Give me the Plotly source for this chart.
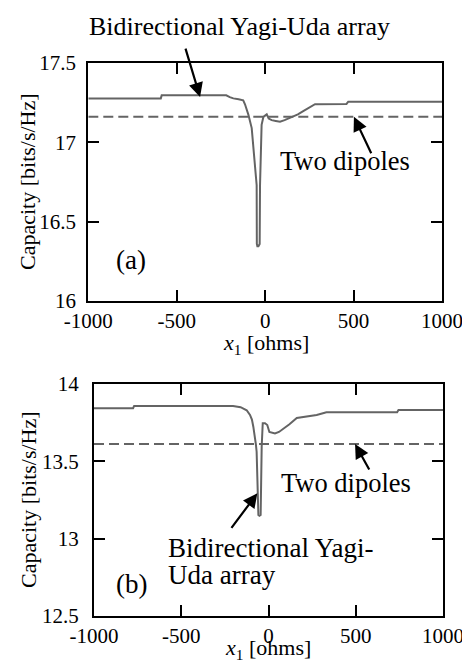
import plotly.graph_objects as go

# ---------------- data ----------------
# (a) Bidirectional Yagi-Uda array capacity vs x1
xa = [-1000, -590, -585, -220, -200, -180, -150, -124, -114, -95, -76, -57, -48, -47,
      -44, -38, -31, -29, -20, -10, 0, 9, 20, 37, 60, 84, 110, 140, 185, 220, 254, 282,
      460, 470, 1000]
ya = [17.277, 17.277, 17.296, 17.296, 17.285, 17.277, 17.272, 17.265, 17.24, 17.175,
      17.09, 16.84, 16.73, 16.36, 16.345, 16.345, 16.36, 16.73, 17.11, 17.16, 17.17,
      17.176, 17.15, 17.14, 17.135, 17.13, 17.14, 17.153, 17.176, 17.20, 17.22, 17.24,
      17.242, 17.256, 17.256]
# (a) Two dipoles
xa_dip = [-1000, 1000]
ya_dip = [17.161, 17.161]

# (b) Bidirectional Yagi-Uda array
xb = [-1000, -776, -770, -203, -160, -144, -125, -106, -95, -87, -77, -72, -68, -58,
      -52, -45, -39, -33, -20, -7, 5, 20, 37, 60, 85, 120, 162, 220, 276, 332, 737, 745,
      1000]
yb = [13.843, 13.843, 13.858, 13.858, 13.85, 13.84, 13.83, 13.80, 13.77, 13.724, 13.66,
      13.606, 13.562, 13.153, 13.148, 13.153, 13.595, 13.746, 13.746, 13.735, 13.69,
      13.683, 13.68, 13.69, 13.71, 13.74, 13.78, 13.79, 13.80, 13.817, 13.817, 13.832,
      13.832]
# (b) Two dipoles
xb_dip = [-1000, 1000]
yb_dip = [13.612, 13.612]

xtick_vals = [-1000, -500, 0, 500, 1000]
xtick_text = ["-1000", "-500", "0", "500", "1000"]
ytick_a_vals = [16, 16.5, 17, 17.5]
ytick_a_text = ["16", "16.5", "17", "17.5"]
ytick_b_vals = [12.5, 13, 13.5, 14]
ytick_b_text = ["12.5", "13", "13.5", "14"]

# ---------------- figure ----------------
W, H = 470, 664
OFF = 8  # page body margin offset
FONT = "Liberation Serif, Times New Roman, Times, serif"
LINE_COLOR = "rgb(100,100,100)"

def px(x):
    return (x - OFF) / W

def py(y):
    return 1 - (y - OFF) / H

fig = go.Figure()
fig.add_trace(go.Scatter(x=xa, y=ya, mode="lines", line=dict(color=LINE_COLOR, width=2),
                         xaxis="x", yaxis="y", showlegend=False))
fig.add_trace(go.Scatter(x=xa_dip, y=ya_dip, mode="lines",
                         line=dict(color=LINE_COLOR, width=2, dash="10px,5px"),
                         xaxis="x", yaxis="y", showlegend=False))
fig.add_trace(go.Scatter(x=xb, y=yb, mode="lines", line=dict(color=LINE_COLOR, width=2),
                         xaxis="x2", yaxis="y2", showlegend=False))
fig.add_trace(go.Scatter(x=xb_dip, y=yb_dip, mode="lines",
                         line=dict(color=LINE_COLOR, width=2, dash="10px,5px"),
                         xaxis="x2", yaxis="y2", showlegend=False))

axis_common = dict(showline=True, linecolor="black", linewidth=2, mirror="ticks",
                   ticks="inside", ticklen=11, tickwidth=2, tickcolor="black",
                   showgrid=False, zeroline=False, automargin=False,
                   tickfont=dict(family=FONT, size=21, color="black"))

fig.update_layout(
    width=W, height=H,
    margin=dict(l=0, r=0, t=0, b=0, pad=0, autoexpand=False),
    paper_bgcolor="white", plot_bgcolor="white",
    font=dict(family=FONT, color="black"),
    xaxis=dict(domain=[px(88.3), px(442)], range=[-1000, 1000], anchor="y",
               tickvals=xtick_vals, ticktext=xtick_text, ticklabelstandoff=0, **axis_common),
    yaxis=dict(domain=[py(301), py(63)], range=[16, 17.5], anchor="x",
               tickvals=ytick_a_vals, ticktext=ytick_a_text, ticklabelstandoff=6, **axis_common),
    xaxis2=dict(domain=[px(94), px(443)], range=[-1000, 1000], anchor="y2",
                tickvals=xtick_vals, ticktext=xtick_text, ticklabelstandoff=0, **axis_common),
    yaxis2=dict(domain=[py(616), py(384)], range=[12.5, 14], anchor="x2",
                tickvals=ytick_b_vals, ticktext=ytick_b_text, ticklabelstandoff=9, **axis_common),
)

ann = []
def text_ann(x, y, text, size=25, xanchor="center", textangle=0):
    ann.append(dict(xref="paper", yref="paper", x=px(x), y=py(y), text=text,
                    showarrow=False, xanchor=xanchor, yanchor="middle",
                    textangle=textangle, font=dict(family=FONT, size=size, color="black")))

def arrow_ann(xref, yref, x, y, ax, ay):
    ann.append(dict(xref=xref, yref=yref, x=x, y=y, ax=ax, ay=ay, text="",
                    showarrow=True, arrowhead=2, arrowsize=1.3, arrowwidth=2.2,
                    arrowcolor="black", standoff=0))

# axis titles
text_ann(28, 182, "Capacity [bits/s/Hz]", size=22, textangle=-90)
text_ann(28, 500, "Capacity [bits/s/Hz]", size=22, textangle=-90)
text_ann(266, 344, "<i>x</i><sub>1</sub> [ohms]", size=22)
text_ann(268, 649, "<i>x</i><sub>1</sub> [ohms]", size=22)

# panel labels
text_ann(131, 260, "(a)", size=27)
text_ann(131, 584, "(b)", size=27)

# panel (a) annotations
text_ann(239, 26, "Bidirectional Yagi-Uda array", size=26)
arrow_ann("x", "y", -368, 17.285, -15, -50)
text_ann(345, 161, "Two dipoles", size=26.5)
arrow_ann("x", "y", 502, 17.161, 18, 38)

# panel (b) annotations
text_ann(346, 483, "Two dipoles", size=26.5)
arrow_ann("x2", "y2", 496, 13.612, 15, 27)
text_ann(166, 548, "Bidirectional Yagi-", size=27, xanchor="left")
text_ann(166, 575, "Uda array", size=27, xanchor="left")
arrow_ann("x2", "y2", -64, 13.293, -27, 36)

fig.update_layout(annotations=ann)
fig.write_html("out.html")
